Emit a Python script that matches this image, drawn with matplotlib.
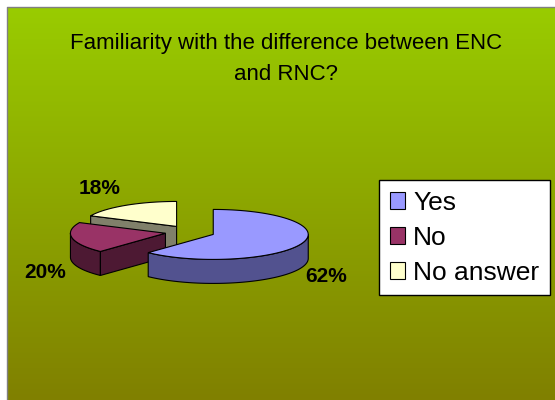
"""Exploded 3-D style pie: familiarity with ENC vs RNC."""
import numpy as np
import matplotlib.pyplot as plt
from matplotlib.patches import Polygon, Patch

title = "Familiarity with the difference between ENC\nand RNC?"
labels = ["Yes", "No", "No answer"]
shares = [62, 20, 18]
top_colors = ["#9999FF", "#993366", "#FFFFCC"]
side_colors = ["#52528F", "#4D1933", "#80806A"]
label_pos = [(326, 277), (45, 272), (100, 188)]

W, H = 555, 400
CX, CY = 190, 232          # pie centre in px
RX, RY, DEPTH = 95, 25, 24  # ellipse radii and slab thickness
EXPLODE = 25

plt.rcParams['font.family'] = ['Liberation Sans', 'DejaVu Sans']
fig = plt.figure(figsize=(W / 100, H / 100), dpi=100)
ax = fig.add_axes([0, 0, 1, 1])

# green-to-olive vertical gradient
t = np.linspace(0, 1, 256)[:, None, None]
c_top = np.array([153, 204, 0]) / 255
c_bot = np.array([128, 128, 0]) / 255
ax.imshow(c_top + (c_bot - c_top) * t, extent=(7, W, H, 7), aspect='auto', zorder=0)
ax.plot([7, 7, W], [H, 7, 7], color='#808080', lw=1, zorder=1)


def rim(a, b, ox, oy, z=0, n=80):
    th = np.radians(np.linspace(a, b, n))
    return np.column_stack([ox + RX * np.cos(th), oy - RY * np.sin(th) + z])


def poly(pts, fc, z):
    ax.add_patch(Polygon(pts, closed=True, fc=fc, ec='black', lw=0.8, zorder=z))


fracs = np.array(shares) / sum(shares)
ends = 90 - 360 * np.cumsum(fracs)
starts = np.r_[90, ends[:-1]]
mids = (starts + ends) / 2

# back slices first
for k, i in enumerate(np.argsort(-np.sin(np.radians(mids)))):
    t1, t2, m = ends[i], starts[i], np.radians(mids[i])
    ox = CX + EXPLODE * np.cos(m)
    oy = CY - EXPLODE * (RY / RX) * np.sin(m)
    z = 2 + 3 * k
    # outer wall, front half only
    for off in (-360, 0, 360):
        a, b = max(t1, -180 + off), min(t2, off)
        if b > a:
            poly(np.vstack([rim(a, b, ox, oy), rim(b, a, ox, oy, DEPTH)]), side_colors[i], z)
    # cut faces that turn towards the viewer
    for ang, nrm in ((t1, t1 - 90), (t2, t2 + 90)):
        if np.sin(np.radians(nrm)) < -1e-6:
            p = rim(ang, ang, ox, oy, n=1)[0]
            poly([(ox, oy), p, (p[0], p[1] + DEPTH), (ox, oy + DEPTH)], side_colors[i], z + 1)
    poly(np.vstack([[ox, oy], rim(t1, t2, ox, oy)]), top_colors[i], z + 2)

for v, (x, y) in zip(shares, label_pos):
    ax.text(x, y, f"{v}%", ha='center', va='center', fontsize=15, fontweight='bold', zorder=20)

ax.text(286, 59, title, ha='center', va='center', fontsize=16, linespacing=1.6, zorder=20)

handles = [Patch(fc=c, ec='black', lw=0.8) for c in top_colors]
leg = ax.legend(handles, labels, loc='upper left', bbox_to_anchor=(379 / W, 1 - 180 / H),
                bbox_transform=fig.transFigure, fontsize=19, frameon=True, fancybox=False,
                framealpha=1, facecolor='white', edgecolor='black',
                borderpad=0.4, handlelength=0.6, handleheight=0.6, handletextpad=0.3,
                labelspacing=0.42, borderaxespad=0)
leg.get_frame().set_linewidth(1)
leg.set_zorder(30)

ax.set_xlim(0, W)
ax.set_ylim(H, 0)
ax.axis('off')
fig.savefig('out.png', dpi=100, facecolor='white')
